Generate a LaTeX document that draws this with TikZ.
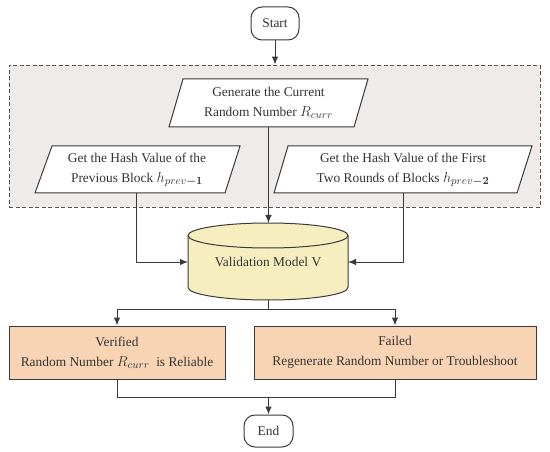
\documentclass[tikz,border=0pt]{standalone}
\usepackage{fontspec}
\setmainfont{Liberation Serif}
\usepackage{amsmath}
\usepackage{bm}
\usetikzlibrary{arrows.meta}
\definecolor{linec}{HTML}{3A3A3A}
\definecolor{grpfill}{HTML}{EFEBEA}
\definecolor{grpline}{HTML}{555555}
\definecolor{peach}{HTML}{F8D4B4}
\definecolor{cylfill}{HTML}{F7EEC0}
\definecolor{txtc}{HTML}{333333}
\newcommand{\largemath}[1]{{\fontsize{15.5}{20}\selectfont$#1$}}
\begin{document}
\begin{tikzpicture}[x=1pt,y=-1pt,
  font=\fontsize{13.4}{20}\selectfont,
  line/.style={draw=linec,line width=1pt},
  arr/.style={line,-{Latex[length=8pt,width=6.5pt]}},
  txt/.style={align=center,inner sep=0pt,text=txtc},
  term/.style={line,fill=white,rounded corners=11pt,minimum width=48pt,minimum height=33pt,inner sep=0pt,text=txtc},
  resbox/.style={line,fill=peach,minimum height=53pt,inner sep=0pt,align=center,text=txtc},
  para/.style={line,fill=white,line join=miter}]
\useasboundingbox (0,0) rectangle (550,452);
% group
\node[draw=grpline,fill=grpfill,line width=0.9pt,dash pattern=on 4pt off 2.5pt,minimum width=531pt,minimum height=142pt,inner sep=0pt] (grp) at (274.5,136) {};
% start
\node[term] (start) at (275,23.5) {Start};
\draw[arr] (start) -- (start |- grp.north);
% generate
\draw[para] (183,79) -- (368,79) -- (354,127) -- (169,127) -- cycle;
\node[txt] (gen) at (268.5,103) {Generate the Current\\Random Number \largemath{R_{curr}}};
\coordinate (genB) at (268.5,127);
% left
\draw[para] (52,146) -- (240,146) -- (225,193) -- (35,193) -- cycle;
\node[txt] (prev1) at (137,169.5) {Get the Hash Value of the\\Previous Block \largemath{h_{prev\bm{-1}}}};
\coordinate (prev1B) at (136,193);
% right
\draw[para] (288,146) -- (532,146) -- (517,193) -- (274,193) -- cycle;
\node[txt] (prev2) at (403,169.5) {Get the Hash Value of the First\\Two Rounds of Blocks \largemath{h_{prev\bm{-2}}}};
\coordinate (prev2B) at (403,193);
% cylinder
\filldraw[line,fill=cylfill] (188,235.5) -- (188,287.5) arc[start angle=180,end angle=360,x radius=80pt,y radius=12.5pt] -- (348,235.5) arc[start angle=0,end angle=180,x radius=80pt,y radius=12.5pt] -- cycle;
\draw[line] (188,235.5) arc[start angle=180,end angle=360,x radius=80pt,y radius=12.5pt];
\node[txt] (cyl) at (268,262) {Validation Model V};
\coordinate (cylT) at (268.5,223);
\coordinate (cylL) at (188,262);
\coordinate (cylR) at (348,262);
\coordinate (cylB) at (268.5,300);
\draw[arr] (genB) -- (cylT);
\draw[arr] (prev1B) |- (cylL);
\draw[arr] (prev2B) |- (cylR);
% results
\node[resbox,minimum width=216pt] (ver) at (117,352.5) {Verified\\Random Number \largemath{R_{curr}}\ \ is Reliable};
\node[resbox,minimum width=282pt] (fail) at (395,352.5) {Failed\\Regenerate Random Number or Troubleshoot};
\coordinate (split) at (268.5,309);
\draw[line] (cylB) -- (split);
\draw[arr] (split) -| (ver.north);
\draw[arr] (split) -| (fail.north);
% end
\node[term,minimum width=49pt,minimum height=32pt] (end) at (268.5,431) {End};
\coordinate (merge) at (268.5,397);
\draw[line] (ver.south) |- (merge);
\draw[line] (fail.south) |- (merge);
\draw[arr] (merge) -- (end);
\end{tikzpicture}
\end{document}
